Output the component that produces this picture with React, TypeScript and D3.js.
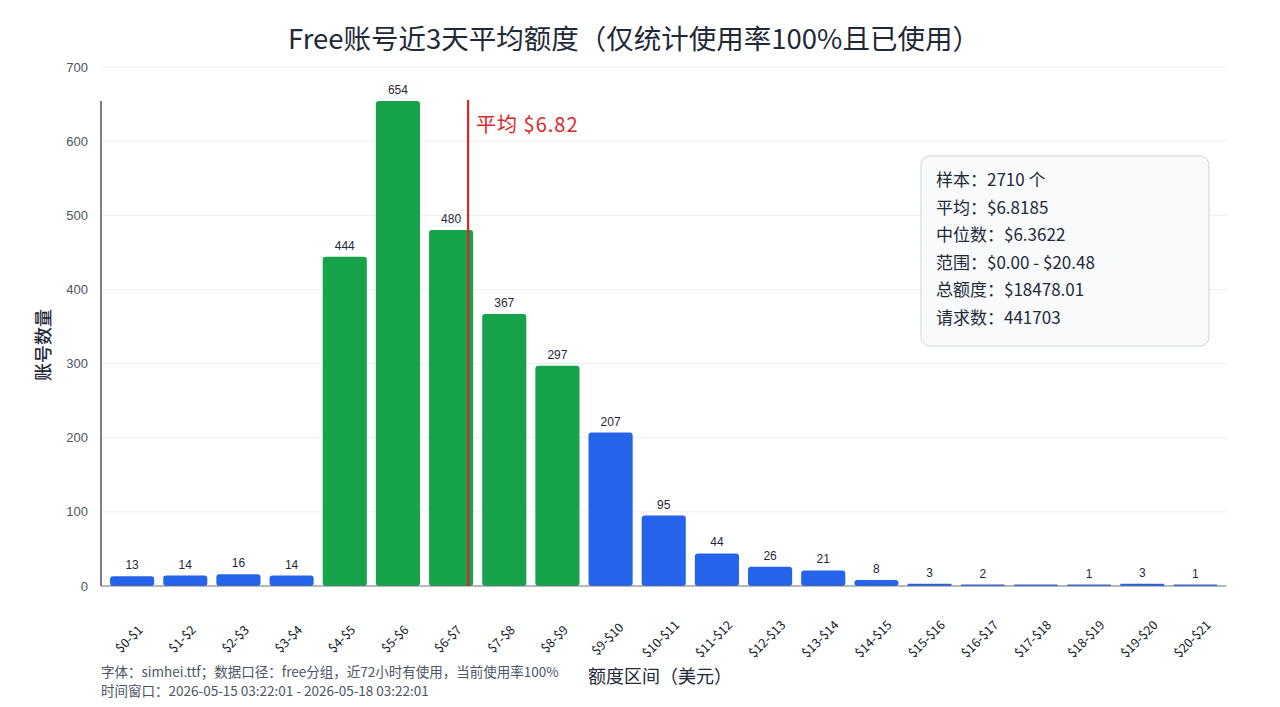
import React, { useRef, useEffect } from 'react';
import * as d3 from 'd3';

const categories = [
  '$0-$1', '$1-$2', '$2-$3', '$3-$4', '$4-$5', '$5-$6', '$6-$7', '$7-$8', '$8-$9', '$9-$10',
  '$10-$11', '$11-$12', '$12-$13', '$13-$14', '$14-$15', '$15-$16', '$16-$17', '$17-$18',
  '$18-$19', '$19-$20', '$20-$21'
];
const counts = [13, 14, 16, 14, 444, 654, 480, 367, 297, 207, 95, 44, 26, 21, 8, 3, 2, 0, 1, 3, 1];
// bins highlighted in green
const highlighted = ['$4-$5', '$5-$6', '$6-$7', '$7-$8', '$8-$9'];
const yTicks = [0, 100, 200, 300, 400, 500, 600, 700];
const meanValue = 6.82;
const statsLines = [
  '样本：2710 个',
  '平均：$6.8185',
  '中位数：$6.3622',
  '范围：$0.00 - $20.48',
  '总额度：$18478.01',
  '请求数：441703'
];
const footerLines = [
  '字体：simhei.ttf；数据口径：free分组，近72小时有使用，当前使用率100%',
  '时间窗口：2026-05-15 03:22:01 - 2026-05-18 03:22:01'
];

const W = 1280;
const H = 707;
const CJK = '"Noto Sans CJK SC", "Noto Sans", sans-serif';
const NUM = '"Liberation Sans", Arial, sans-serif';

const App: React.FC = () => {
  const ref = useRef<SVGSVGElement | null>(null);

  useEffect(() => {
    if (!ref.current) return;
    const svg = d3.select(ref.current);
    svg.selectAll('*').remove();

    const left = 101;
    const right = 1226.5;
    const top = 67;
    const bottom = 586;

    const x = d3.scaleBand<string>().domain(categories).range([left, right]).padding(0.17);
    const y = d3.scaleLinear().domain([0, 700]).range([bottom, top]);
    const step = x.step();
    const firstCenter = (x(categories[0]) || 0) + x.bandwidth() / 2;
    const xVal = (v: number) => firstCenter + (v - 0.5) * step;

    svg.append('rect').attr('width', W).attr('height', H).attr('fill', '#ffffff');

    // grid
    svg.append('g')
      .selectAll('line')
      .data(yTicks.filter(t => t > 0))
      .join('line')
      .attr('x1', left)
      .attr('x2', right)
      .attr('y1', d => y(d))
      .attr('y2', d => y(d))
      .attr('stroke', '#eceef2')
      .attr('stroke-width', 1);

    // y tick labels
    svg.append('g')
      .selectAll('text')
      .data(yTicks)
      .join('text')
      .attr('x', 88)
      .attr('y', d => y(d))
      .attr('dy', '0.35em')
      .attr('text-anchor', 'end')
      .attr('font-family', NUM)
      .attr('font-size', 13)
      .attr('fill', '#4b5563')
      .text(d => d);

    // bars
    svg.append('g')
      .selectAll('rect')
      .data(categories)
      .join('rect')
      .attr('x', d => x(d) || 0)
      .attr('width', x.bandwidth())
      .attr('y', (d, i) => Math.min(y(counts[i]), bottom - 1.5))
      .attr('height', (d, i) => Math.max(bottom - y(counts[i]), 1.5))
      .attr('rx', (d, i) => (counts[i] > 3 ? 3 : 1))
      .attr('fill', d => (highlighted.includes(d) ? '#16a34a' : '#2563eb'));

    // value labels
    svg.append('g')
      .selectAll('text')
      .data(categories.filter((d, i) => counts[i] > 0))
      .join('text')
      .attr('x', d => (x(d) || 0) + x.bandwidth() / 2)
      .attr('y', d => y(counts[categories.indexOf(d)]) - 7)
      .attr('text-anchor', 'middle')
      .attr('font-family', NUM)
      .attr('font-size', 12)
      .attr('fill', '#1f2937')
      .text(d => counts[categories.indexOf(d)]);

    // axes lines
    svg.append('line')
      .attr('x1', left).attr('x2', right)
      .attr('y1', bottom).attr('y2', bottom)
      .attr('stroke', '#6b7280').attr('stroke-width', 1.2);
    svg.append('line')
      .attr('x1', left).attr('x2', left)
      .attr('y1', bottom).attr('y2', y(d3.max(counts) || 0))
      .attr('stroke', '#4b5563').attr('stroke-width', 1.5);

    // x tick labels
    svg.append('g')
      .selectAll('text')
      .data(categories)
      .join('text')
      .attr('transform', d => `translate(${(x(d) || 0) + x.bandwidth() / 2 - 3},${639}) rotate(-45)`)
      .attr('text-anchor', 'middle')
      .attr('dy', '0.35em')
      .attr('font-family', CJK)
      .attr('font-size', 12.5)
      .attr('fill', '#111827')
      .text(d => d);

    // mean line
    svg.append('line')
      .attr('x1', xVal(meanValue)).attr('x2', xVal(meanValue))
      .attr('y1', bottom).attr('y2', 100)
      .attr('stroke', '#dc2626').attr('stroke-width', 2.2);
    svg.append('text')
      .attr('x', xVal(meanValue) + 8)
      .attr('y', 132)
      .attr('font-family', CJK)
      .attr('font-size', 20)
      .attr('letter-spacing', 1)
      .attr('fill', '#dc2626')
      .text(`平均 $${meanValue.toFixed(2)}`);

    // stats box
    svg.append('rect')
      .attr('x', 921).attr('y', 156)
      .attr('width', 288).attr('height', 190)
      .attr('rx', 9)
      .attr('fill', '#f8fafc')
      .attr('stroke', '#cbd5e1')
      .attr('stroke-width', 1);
    svg.append('g')
      .selectAll('text')
      .data(statsLines)
      .join('text')
      .attr('x', 936)
      .attr('y', (d, i) => 186 + i * 27.5)
      .attr('font-family', CJK)
      .attr('font-size', 17)
      .attr('fill', '#1f2937')
      .text(d => d);

    // title
    svg.append('text')
      .attr('x', 634).attr('y', 49)
      .attr('text-anchor', 'middle')
      .attr('font-family', CJK)
      .attr('font-size', 27.5)
      .attr('fill', '#1f2937')
      .text('Free账号近3天平均额度（仅统计使用率100%且已使用）');

    // axis titles
    svg.append('text')
      .attr('transform', 'translate(50,345) rotate(-90)')
      .attr('text-anchor', 'middle')
      .attr('font-family', CJK)
      .attr('font-size', 18)
      .attr('font-weight', 500)
      .attr('fill', '#1f2937')
      .text('账号数量');
    svg.append('text')
      .attr('x', 660).attr('y', 683)
      .attr('text-anchor', 'middle')
      .attr('font-family', CJK)
      .attr('font-size', 18)
      .attr('fill', '#1f2937')
      .text('额度区间（美元）');

    // footer
    svg.append('g')
      .selectAll('text')
      .data(footerLines)
      .join('text')
      .attr('x', 101)
      .attr('y', (d, i) => 677 + i * 19)
      .attr('font-family', CJK)
      .attr('font-size', 13.5)
      .attr('fill', '#4b5563')
      .text(d => d);
  }, []);

  return (
    <svg
      ref={ref}
      width={W}
      height={H}
      viewBox={`0 0 ${W} ${H}`}
      style={{ position: 'absolute', left: 0, top: 0, display: 'block' }}
    />
  );
};

export default App;
